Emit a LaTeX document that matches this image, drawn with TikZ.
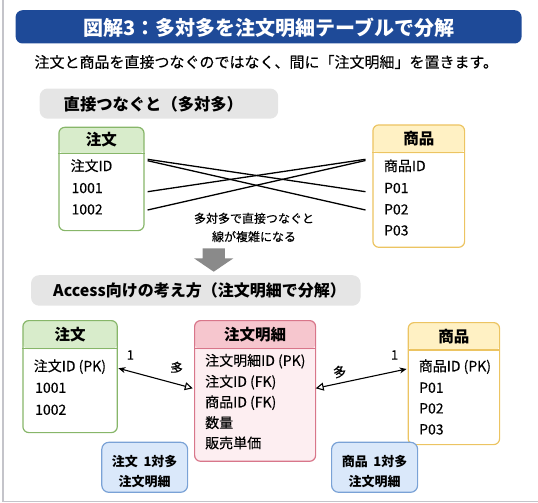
\documentclass[tikz,border=0pt]{standalone}
\usepackage{fontspec}
\setmainfont{Noto Sans CJK JP}[UprightFeatures={FakeBold=0.25}]
\usetikzlibrary{arrows.meta,calc}
\definecolor{titleblue}{RGB}{30,74,152}
\definecolor{greenB}{RGB}{135,182,105}
\definecolor{greenH}{RGB}{216,236,203}
\definecolor{yelB}{RGB}{236,196,98}
\definecolor{yelH}{RGB}{255,241,196}
\definecolor{pinkB}{RGB}{216,118,138}
\definecolor{pinkH}{RGB}{246,198,206}
\definecolor{pinkF}{RGB}{253,238,241}
\definecolor{blueB}{RGB}{122,162,214}
\definecolor{blueF}{RGB}{218,232,250}
\definecolor{secgray}{RGB}{229,229,229}
\definecolor{arrgray}{RGB}{138,138,138}
\definecolor{framegray}{RGB}{196,196,202}
\begin{document}
\begin{tikzpicture}[x=1pt,y=-1pt,
  tbox/.style n args={4}{draw=#1, fill=#3, line width=1.2pt, rounded corners=6pt,
    anchor=north west, inner sep=0pt,
    path picture={\fill[#2] (path picture bounding box.north west) rectangle ([yshift=-#4]path picture bounding box.north east);}},
  sepline/.style={draw=#1, line width=1.2pt},
  hdr/.style={font=\fontsize{15.5}{18}\selectfont\bfseries, inner sep=0pt},
  row/.style={font=\fontsize{14}{17}\selectfont, inner sep=0pt, anchor=west, text height=0.9em, text depth=0.15em},
  lbl/.style={font=\fontsize{13}{15}\selectfont, inner sep=0pt},
  secbox/.style={fill=secgray, rounded corners=8pt, inner sep=0pt, anchor=north west},
  sectext/.style={font=\fontsize{16.3}{19}\selectfont\bfseries, inner sep=0pt, anchor=west},
  note/.style={draw=blueB, fill=blueF, line width=1.2pt, rounded corners=7pt, anchor=north west,
    inner sep=0pt},
  notetext/.style={font=\fontsize{13}{15}\selectfont\bfseries, inner sep=0pt},
  link/.style={draw=black, line width=1.3pt},
  relarr/.style={draw=black, line width=1.1pt,
    {Stealth[open, length=7pt, width=6pt]}-{Triangle[open, fill=white, length=8pt, width=8pt]}}
]
\useasboundingbox (0,0) rectangle (538,503);
% frame
\draw[framegray, line width=1.2pt] (3,0) -- (3,501.5) -- (538,501.5);

% title
\node[fill=titleblue, rounded corners=7pt, anchor=north west, inner sep=0pt,
      minimum width=506pt, minimum height=33.3pt] (titlebar) at (15.4,10) {};
\node[font=\fontsize{20}{24}\selectfont\bfseries, text=white, inner sep=0pt] (title)
      at ([yshift=-0.5pt]titlebar.center) {図解3：多対多を注文明細テーブルで分解};
\node[font=\fontsize{15}{18}\selectfont, inner sep=0pt, anchor=west] (sub) at (34.3,62)
      {注文と商品を直接つなぐのではなく、間に「注文明細」を置きます。};

% section 1
\node[secbox, minimum width=238.5pt, minimum height=30.2pt] (sec1) at (39.5,88.3) {};
\node[sectext] (sec1t) at (63.5,104) {直接つなぐと（多対多）};

% top tables
\node[tbox={greenB}{greenH}{white}{26.6pt}, minimum width=85.1pt, minimum height=103.3pt] (A1) at (58.3,126.7) {};
\draw[sepline=greenB] ([yshift=-26.6pt]A1.north west) -- ([yshift=-26.6pt]A1.north east);
\node[hdr] (A1h) at ([yshift=-13.3pt]A1.north) {注文};
\node[row] (A1r1) at (70.4,167.3) {注文ID};
\node[row] (A1r2) at (71.4,189.3) {1001};
\node[row] (A1r3) at (71.4,210.7) {1002};

\node[tbox={yelB}{yelH}{white}{28.4pt}, minimum width=91.7pt, minimum height=122.4pt] (B1) at (372.3,124.3) {};
\draw[sepline=yelB] ([yshift=-28.4pt]B1.north west) -- ([yshift=-28.4pt]B1.north east);
\node[hdr] (B1h) at ([yshift=-14.2pt]B1.north) {商品};
\node[row] (B1r1) at (383.7,167.3) {商品ID};
\node[row] (B1r2) at (383.9,189.3) {P01};
\node[row] (B1r3) at (383.9,210.7) {P02};
\node[row] (B1r4) at (383.9,231.7) {P03};

% crossing lines
\coordinate (La) at (147.6,159.3);
\coordinate (Lb) at (147.6,160.7);
\coordinate (Lc) at (147.6,191.7);
\coordinate (Ld) at (147.6,210);
\coordinate (Ra) at (365.5,159.3);
\coordinate (Rb) at (365.5,160.5);
\coordinate (Rc) at (365.5,191.7);
\coordinate (Rd) at (365.5,210);
\draw[link] (La) -- (Rc);
\draw[link] (Lb) -- (Rd);
\draw[link] (Lc) -- (Ra);
\draw[link] (Ld) -- (Rb);

\node[font=\fontsize{12}{18.4}\selectfont, inner sep=0pt, align=center] (cap) at (254,227.5)
      {多対多で直接つなぐと\\線が複雑になる};

% down arrow
\fill[arrgray] (202.5,248.3) -- (224.8,248.3) -- (224.8,258.3) -- (233.4,258.3)
      -- (213.7,271.7) -- (194,258.3) -- (202.5,258.3) -- cycle;

% section 2
\node[secbox, minimum width=329.4pt, minimum height=30.5pt] (sec2) at (30.9,275) {};
\node[sectext, font=\fontsize{16}{19}\selectfont\bfseries] (sec2t) at (53,290.5) {Access向けの考え方（注文明細で分解）};

% bottom tables
\node[tbox={greenB}{greenH}{white}{28.5pt}, minimum width=94.4pt, minimum height=112pt] (A2) at (22.3,320) {};
\draw[sepline=greenB] ([yshift=-28.5pt]A2.north west) -- ([yshift=-28.5pt]A2.north east);
\node[hdr] (A2h) at ([yshift=-14.5pt]A2.north) {注文};
\node[row] (A2r1) at (33.6,367.5) {注文ID (PK)};
\node[row] (A2r2) at (35,389) {1001};
\node[row] (A2r3) at (35,411) {1002};

\node[tbox={pinkB}{pinkH}{pinkF}{28.5pt}, minimum width=121pt, minimum height=140.7pt] (C2) at (194,320) {};
\draw[sepline=pinkB] ([yshift=-28.5pt]C2.north west) -- ([yshift=-28.5pt]C2.north east);
\node[hdr] (C2h) at ([yshift=-14.5pt]C2.north) {注文明細};
\node[row] (C2r1) at (205,362) {注文明細ID (PK)};
\node[row] (C2r2) at (205,383) {注文ID (FK)};
\node[row] (C2r3) at (205,403.5) {商品ID (FK)};
\node[row] (C2r4) at (205,424.2) {数量};
\node[row] (C2r5) at (205,444.5) {販売単価};

\node[tbox={yelB}{yelH}{white}{28pt}, minimum width=91.4pt, minimum height=122pt] (B2) at (407.6,322) {};
\draw[sepline=yelB] ([yshift=-28pt]B2.north west) -- ([yshift=-28pt]B2.north east);
\node[hdr] (B2h) at ([yshift=-14.5pt]B2.north) {商品};
\node[row] (B2r1) at (418.6,367.5) {商品ID (PK)};
\node[row] (B2r2) at (419,389) {P01};
\node[row] (B2r3) at (419,409.7) {P02};
\node[row] (B2r4) at (419,430.7) {P03};

% relationship arrows
\coordinate (A2p) at (118.4,368.3);
\coordinate (C2pl) at (192.8,388.3);
\coordinate (C2pr) at (315.7,388.3);
\coordinate (B2p) at (406.6,369);
\draw[relarr] (A2p) -- (C2pl);
\draw[relarr] (B2p) -- (C2pr);
\node[lbl] (one1) at (130.4,355) {1};
\node[lbl, rotate=-12] (many1) at (176.7,367.7) {多};
\node[lbl, rotate=10] (many2) at (339.7,371.7) {多};
\node[lbl] (one2) at (394.6,355) {1};

% notes
\node[note, minimum width=85.8pt, minimum height=50pt] (n1) at (101.2,441.7) {};
\node[notetext] (n1a) at ([yshift=-20pt]n1.north) {注文\hspace{0.2em} 1対多};
\node[notetext] (n1b) at ([yshift=-40pt]n1.north) {注文明細};
\node[note, minimum width=86pt, minimum height=50pt] (n2) at (331,441.7) {};
\node[notetext] (n2a) at ([yshift=-20pt]n2.north) {商品\hspace{0.2em} 1対多};
\node[notetext] (n2b) at ([yshift=-40pt]n2.north) {注文明細};
\end{tikzpicture}
\end{document}
